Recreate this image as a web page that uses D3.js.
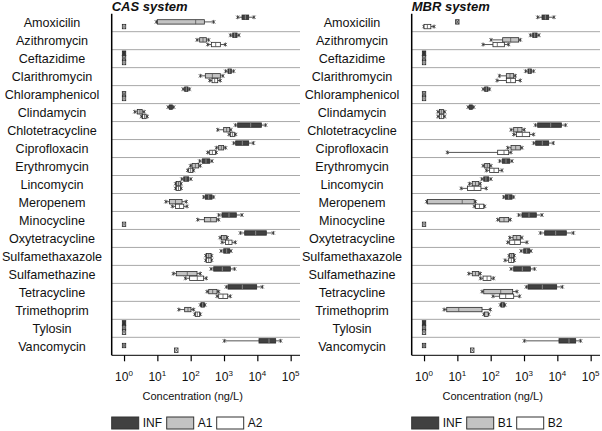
<!DOCTYPE html>
<html><head><meta charset="utf-8">
<script src="https://cdn.jsdelivr.net/npm/d3@7"></script>
<style>body{margin:0;background:#fff}svg{display:block}text{font-family:"Liberation Sans",Arial,sans-serif;fill:#111}</style>
</head><body><svg id="c" width="602" height="431"></svg>
<script>
const antibiotics = ["Amoxicilin","Azithromycin","Ceftazidime","Clarithromycin","Chloramphenicol","Clindamycin","Chlotetracycline","Ciprofloxacin","Erythromycin","Lincomycin","Meropenem","Minocycline","Oxytetracycline","Sulfamethaxazole","Sulfamethazine","Tetracycline","Trimethoprim","Tylosin","Vancomycin"];
// [min, q1, median, q3, max] in ng/L
const influent = [
 [2570,3470,4370,5500,7940],[1550,1820,2090,2450,2820],[1,1,1,1,1],[1120,1320,1480,1660,1950],
 [59,66,74,83,93],[21,23,26,28,31],[2190,2570,6310,13200,17800],[1950,2240,3550,5500,7590],
 [186,224,288,372,437],[54,62,72,87,102],[245,275,347,437,490],[692,871,1410,2340,3470],
 [3090,4170,8910,18600,30200],[813,977,1200,1480,1620],[407,490,891,1550,2090],[1170,1320,3550,9550,14100],
 [195,204,229,257,269],[1,1,1,1,1],[1020,11200,22400,35500,50100]];
const casA1 = [
 [9.3,10,141,257,490],[155,186,234,295,347],[1,1,1,1,1],[195,275,447,776,933],
 [1,1,1,1,1],[2.1,2.5,3.0,3.5,4.0],[646,977,1200,1480,1620],[589,692,832,977,1120],
 [98,110,138,174,195],[35,37,43,49,52],[18,23,35,55,74],[162,257,398,589,692],
 [759,832,1000,1170,1260],[282,295,347,407,427],[30,37,79,155,195],[309,347,457,617,692],
 [44,66,83,102,123],[1,1,1,1,1],[1,1,1,1,1]];
const casA2 = [
 [1,1,1,1,1],[324,417,562,776,1100],[1,1,1,1,1],[372,437,525,646,776],
 [1,1,1,1,1],[3.3,3.6,4.1,4.6,5.0],[1410,1550,1780,2040,2240],[324,372,447,550,589],
 [81,87,100,115,123],[35,37,43,49,52],[28,35,46,62,78],[1,1,1,1,1],
 [871,1100,1380,1740,2190],[282,295,347,407,427],[69,93,158,245,295],[617,692,933,1290,1550],
 [132,138,158,186,195],[1,1,1,1,1],[36,36,37,38,38]];
const mbrB1 = [
 [9.5,9.8,10,10.3,10.5],[102,229,398,692,776],[1,1,1,1,1],[182,295,380,490,550],
 [1,1,1,1,1],[2.6,2.9,3.3,3.8,4.2],[407,490,646,871,1020],[324,407,562,776,871],
 [59,66,79,93,102],[23,28,35,44,49],[1.2,1.26,14,32,35],[162,186,251,347,389],
 [372,468,603,776,871],[355,372,427,490,513],[22,28,35,44,49],[55,62,200,457,617],
 [4.0,4.8,11,55,98],[1,1,1,1,1],[1,1,1,1,1]];
const mbrB2 = [
 [1,1,1.26,1.6,2.0],[59,117,158,257,347],[1,1,1,1,1],[155,295,398,550,776],
 [1,1,1,1,1],[2.6,2.9,3.3,3.8,4.2],[490,589,891,1480,1950],[5.0,162,251,347,407],
 [74,93,126,174,219],[13,20,32,51,74],[32,35,46,62,66],[1,1,1,1,1],
 [324,372,525,776,1230],[269,347,417,490,513],[49,59,78,102,123],[117,186,282,490,741],
 [62,65,72,83,87],[1,1,1,1,1],[27,27,28,29,29]];
const tickValues = [1,10,100,1000,10000,100000];
const casNames = ["INF","A1","A2"];
const mbrNames = ["INF","B1","B2"];
const fills = ["#414141","#c3c3c3","#ffffff"];

const svg = d3.select("#c");
const plotTop = 13.7, plotBottom = 355.3;
const y = d3.scaleBand().domain(antibiotics).range([plotTop, plotBottom]);
const sub = d3.scaleBand().domain([0,1,2]).range([1.2, 15.2]);
const boxH = 4.4;

const panels = [
  {title:"CAS system", x0:111.7, x1:300, labelX:52, series:[influent,casA1,casA2], names:casNames},
  {title:"MBR system", x0:411.7, x1:600, labelX:352, series:[influent,mbrB1,mbrB2], names:mbrNames}
];

panels.forEach(p => {
  const x = d3.scaleLog().domain([Math.pow(10,-0.37), Math.pow(10,5.28)]).range([p.x0, p.x1]);
  const g = svg.append("g");
  g.selectAll("line.sep").data(antibiotics.slice(1)).join("line")
    .attr("x1", p.x0).attr("x2", p.x1)
    .attr("y1", d => y(d)).attr("y2", d => y(d))
    .attr("stroke", "#a8a8a8").attr("stroke-width", 1);
  g.selectAll("text.cat").data(antibiotics).join("text")
    .attr("x", p.labelX).attr("y", d => y(d) + y.bandwidth()/2)
    .attr("dy", "0.35em").attr("text-anchor", "middle")
    .style("font-size", "12.6px").text(d => d);
  g.append("text").attr("x", p.x0).attr("y", 11)
    .style("font-size", "13px").style("font-weight", "bold").style("font-style", "italic")
    .text(p.title);
  const stroke = "#2a2a2a";
  p.series.forEach((ser, si) => {
    ser.forEach((v, i) => {
      const cy = y(antibiotics[i]) + sub(si) + sub.bandwidth()/2;
      const [mn, q1, md, q3, mx] = v.map(x);
      const bg = g.append("g");
      if (mx - mn < 3) {
        // non-detect / tiny range: small crossed box
        const c = (mn + mx) / 2;
        bg.append("rect").attr("x", c - 1.7).attr("y", cy - 2.2).attr("width", 3.4).attr("height", 4.4)
          .attr("fill", fills[si]).attr("stroke", stroke).attr("stroke-width", 0.8);
        bg.append("path").attr("d", `M${c-1.7},${cy-2.2}L${c+1.7},${cy+2.2}M${c-1.7},${cy+2.2}L${c+1.7},${cy-2.2}`)
          .attr("stroke", stroke).attr("stroke-width", 0.6);
        return;
      }
      let bx1 = q1, bx2 = q3;
      if (bx2 - bx1 < 3) { const c = (bx1+bx2)/2; bx1 = c-1.5; bx2 = c+1.5; }
      bg.append("line").attr("x1", mn).attr("x2", bx1).attr("y1", cy).attr("y2", cy).attr("stroke", stroke).attr("stroke-width", 0.8);
      bg.append("line").attr("x1", bx2).attr("x2", mx).attr("y1", cy).attr("y2", cy).attr("stroke", stroke).attr("stroke-width", 0.8);
      [Math.min(mn,bx1), Math.max(mx,bx2)].forEach(ex => {
        bg.append("line").attr("x1", ex).attr("x2", ex).attr("y1", cy-2).attr("y2", cy+2).attr("stroke", stroke).attr("stroke-width", 0.8);
        bg.append("path").attr("d", `M${ex-1.6},${cy-1.6}L${ex+1.6},${cy+1.6}M${ex-1.6},${cy+1.6}L${ex+1.6},${cy-1.6}`)
          .attr("stroke", stroke).attr("stroke-width", 0.7);
      });
      bg.append("rect").attr("x", bx1).attr("y", cy - boxH/2).attr("width", bx2 - bx1).attr("height", boxH)
        .attr("fill", fills[si]).attr("stroke", stroke).attr("stroke-width", 0.8);
      if (q3 - q1 > 3) {
        bg.append("line").attr("x1", md).attr("x2", md).attr("y1", cy - boxH/2).attr("y2", cy + boxH/2)
          .attr("stroke", si === 0 ? "#9a9a9a" : "#555").attr("stroke-width", 0.8);
      }
    });
  });
  g.append("line").attr("x1", p.x0).attr("x2", p.x0).attr("y1", plotTop).attr("y2", plotBottom)
    .attr("stroke", "#000").attr("stroke-width", 1.5);
  g.append("line").attr("x1", p.x0).attr("x2", p.x1).attr("y1", plotBottom).attr("y2", plotBottom)
    .attr("stroke", "#000").attr("stroke-width", 1);
  const axis = d3.axisBottom(x).tickValues(tickValues).tickSize(6).tickFormat("");
  const ag = g.append("g").attr("transform", `translate(0,${plotBottom})`).call(axis);
  ag.select(".domain").remove();
  ag.selectAll(".tick line").attr("stroke", "#000").attr("stroke-width", 1.2);
  const tl = g.selectAll("text.tl").data(tickValues).join("text")
    .attr("x", d => x(d)).attr("y", 381).attr("text-anchor", "middle").style("font-size", "12px");
  tl.append("tspan").text("10");
  tl.append("tspan").attr("dy", -5).style("font-size", "8px").text(d => Math.round(Math.log10(d)));
  g.append("text").attr("x", p.x0 + 81).attr("y", 400).attr("text-anchor", "middle")
    .style("font-size", "11px").text("Concentration (ng/L)");
  const offs = [0, 55, 105];
  p.names.forEach((n, k) => {
    g.append("rect").attr("x", p.x0 + offs[k]).attr("y", 417).attr("width", 27).attr("height", 12)
      .attr("fill", fills[k]).attr("stroke", "#333").attr("stroke-width", 1);
    g.append("text").attr("x", p.x0 + offs[k] + 31).attr("y", 423).attr("dy", "0.35em")
      .style("font-size", "12px").text(n);
  });
});
</script></body></html>
